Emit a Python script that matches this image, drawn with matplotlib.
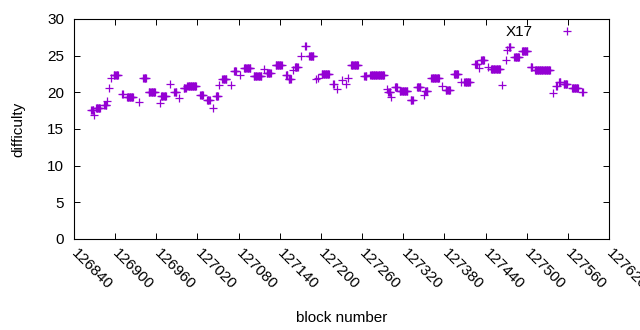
import numpy as np
import matplotlib
matplotlib.use("Agg")
import matplotlib.pyplot as plt

plt.rcParams['font.family'] = ['Liberation Sans', 'DejaVu Sans']

# Runs of blocks with (nearly) constant difficulty: first block, last block, difficulty
seg_start = [126865, 126869, 126872, 126884, 126888, 126891, 126894, 126898, 126910, 126917,
             126935, 126941, 126949, 126965, 126967, 126980, 126986, 126993, 127000, 127005,
             127024, 127034, 127043, 127047, 127051, 127056, 127069, 127073, 127082, 127088,
             127102, 127117, 127121, 127134, 127149, 127153, 127160, 127162, 127171, 127177,
             127183, 127193, 127196, 127201, 127218, 127223, 127231, 127237, 127240, 127244,
             127263, 127272, 127296, 127298, 127302, 127308, 127315, 127331, 127340, 127350,
             127352, 127361, 127376, 127382, 127394, 127404, 127409, 127425, 127431, 127434,
             127443, 127448, 127464, 127470, 127471, 127474, 127482, 127493, 127506, 127512,
             127538, 127543, 127547, 127554, 127566, 127581]
seg_end = [126868, 126869, 126878, 126887, 126888, 126891, 126894, 126904, 126911, 126926,
           126935, 126945, 126958, 126965, 126974, 126980, 126989, 126993, 127003, 127018,
           127028, 127038, 127043, 127050, 127051, 127062, 127069, 127076, 127082, 127097,
           127113, 127117, 127127, 127143, 127151, 127156, 127160, 127166, 127171, 127178,
           127189, 127193, 127196, 127212, 127219, 127223, 127231, 127237, 127240, 127254,
           127266, 127292, 127296, 127301, 127302, 127311, 127326, 127334, 127345, 127350,
           127355, 127372, 127376, 127388, 127400, 127404, 127417, 127428, 127431, 127438,
           127443, 127461, 127464, 127470, 127471, 127476, 127489, 127501, 127508, 127534,
           127538, 127544, 127549, 127559, 127575, 127582]
seg_diff = [17.6, 16.9, 17.8, 18.3, 18.8, 20.6, 21.9, 22.4, 19.8, 19.3,
            18.7, 21.9, 20.1, 18.5, 19.5, 21.2, 20.1, 19.2, 20.6, 20.8,
            19.6, 19.0, 17.9, 19.5, 21.0, 21.8, 21.0, 22.9, 22.4, 23.3,
            22.2, 23.2, 22.6, 23.7, 22.3, 21.8, 23.0, 23.5, 25.0, 26.3,
            24.9, 21.8, 22.0, 22.5, 21.1, 20.4, 21.7, 21.1, 21.9, 23.7,
            22.2, 22.3, 20.5, 20.1, 19.4, 20.7, 20.2, 18.9, 20.7, 19.6,
            20.2, 21.9, 20.8, 20.3, 22.5, 21.4, 21.4, 23.8, 23.3, 24.4,
            23.5, 23.2, 21.0, 24.4, 25.8, 26.2, 24.8, 25.6, 23.5, 23.0,
            19.9, 20.9, 21.4, 21.1, 20.6, 20.0]

x_ticks = [126840, 126900, 126960, 127020, 127080, 127140, 127200,
           127260, 127320, 127380, 127440, 127500, 127560, 127620]
y_ticks = [0, 5, 10, 15, 20, 25, 30]

blocks = np.concatenate([np.arange(s, e + 1) for s, e in zip(seg_start, seg_end)])
diffs = np.concatenate([np.full(e - s + 1, d) for s, e, d in zip(seg_start, seg_end, seg_diff)])

FS = 11

fig = plt.figure(figsize=(6.4, 3.3), dpi=100)
ax = fig.add_axes([74/640, 1 - 239/330, (609 - 74)/640, (239 - 19)/330])

ax.plot(blocks, diffs, linestyle='none', marker='+', ms=6.0, mew=0.9,
        color='#9400D3', label='X17')

ax.set_xlim(126840, 127620)
ax.set_ylim(0, 30)
ax.set_xticks(x_ticks)
ax.set_yticks(y_ticks)
ax.set_xticklabels([str(t) for t in x_ticks], rotation=-45, ha='left', va='center',
                   rotation_mode='anchor')
ax.tick_params(direction='in', length=4, width=0.7, top=True, right=True,
               labelsize=FS, pad=7, colors='black')
ax.tick_params(axis='x', pad=9)
for s in ax.spines.values():
    s.set_linewidth(0.8)

ax.set_xlabel('block number', fontsize=FS, labelpad=13)
ax.set_ylabel('difficulty', fontsize=FS, labelpad=16)

ax.legend(loc='center right', bbox_to_anchor=((573 - 74) / 535, 0.941), frameon=False,
          markerfirst=False, fontsize=FS, handlelength=0.8, handletextpad=1.84,
          borderpad=0, borderaxespad=0)

fig.savefig('out.png', dpi=100)
